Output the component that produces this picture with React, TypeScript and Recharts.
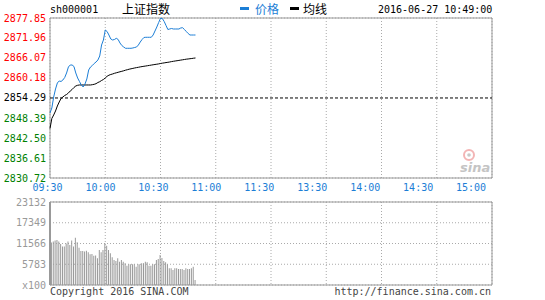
import React from "react";
import {
  ComposedChart,
  Line,
  Bar,
  XAxis,
  YAxis,
  CartesianGrid,
  ReferenceLine,
  ReferenceArea,
} from "recharts";

// minute index from 09:30 (0) to 10:49 (79)
const price = [
  2849.87, 2851.34, 2854.58, 2856.94, 2858.71, 2859.3, 2859.15, 2859.59, 2860.33, 2861.65,
  2863.42, 2864.01, 2864.01, 2863.57, 2861.65, 2860.18, 2859.15, 2858.12, 2857.53, 2858.41,
  2859.89, 2862.54, 2863.42, 2863.86, 2864.45, 2864.89, 2865.48, 2866.66, 2869.9, 2871.37,
  2874.32, 2873.87, 2872.84, 2871.67, 2871.37, 2871.52, 2871.87, 2871.52, 2870.49, 2869.75,
  2869.31, 2868.93, 2868.93, 2868.93, 2868.93, 2869.02, 2869.16, 2869.31, 2869.9, 2870.78,
  2871.52, 2872.11, 2872.17, 2872.17, 2872.17, 2872.17, 2872.84, 2874.02, 2875.2, 2876.52,
  2877.76, 2877.7, 2876.82, 2875.64, 2874.46, 2874.61, 2874.76, 2874.61, 2874.61, 2874.61,
  2874.61, 2874.91, 2874.99, 2874.46, 2873.87, 2873.29, 2872.84, 2872.84, 2872.84, 2872.84,
];

const avgPrice = [
  2845.31, 2848.25, 2849.28, 2850.46, 2851.93, 2853.11, 2854.14, 2854.58, 2855.03, 2855.32,
  2855.76, 2856.35, 2856.79, 2857.38, 2857.82, 2858.03, 2858.12, 2858.12, 2858.12, 2858.12,
  2858.12, 2858.12, 2858.12, 2858.21, 2858.32, 2858.5, 2858.85, 2859.09, 2859.44, 2859.74,
  2860.18, 2860.68, 2861.0, 2861.21, 2861.36, 2861.56, 2861.71, 2861.86, 2862.01, 2862.15,
  2862.3, 2862.48, 2862.62, 2862.77, 2862.89, 2863.01, 2863.13, 2863.24, 2863.33, 2863.45,
  2863.54, 2863.63, 2863.71, 2863.8, 2863.89, 2863.98, 2864.07, 2864.16, 2864.24, 2864.33,
  2864.45, 2864.54, 2864.63, 2864.72, 2864.8, 2864.89, 2865.01, 2865.1, 2865.19, 2865.27,
  2865.36, 2865.45, 2865.54, 2865.63, 2865.72, 2865.78, 2865.86, 2865.92, 2866.01, 2866.07,
];

const volume = [
  12820, 11845, 12123, 12402, 12542, 12123, 11427, 10730, 10730, 11566,
  12123, 11148, 12402, 10730, 13183, 11900, 10396, 9476, 9476, 9336,
  9559, 9113, 8556, 8640, 8166, 8222, 7441, 9755, 9113, 9755,
  11622, 10953, 9755, 8835, 7720, 6968, 6689, 7441, 6494, 6968,
  6494, 6048, 5379, 5769, 5769, 5769, 5769, 5100, 5769, 5769,
  6048, 6048, 6494, 6326, 5379, 5379, 5769, 5769, 6968, 7246,
  8361, 7525, 6689, 6326, 5769, 4654, 4654, 4181, 4654, 4654,
  4459, 4459, 4459, 4181, 4654, 4459, 4459, 4654, 5100, 1394,
];

const prevClose = 2854.29;
const priceTicks = [
  2830.72, 2836.61, 2842.5, 2848.39, 2854.29, 2860.18, 2866.07, 2871.96, 2877.85,
];
const volTicks = [0, 5783, 11566, 17349, 23132];
const timeTicks = [0, 30, 60, 90, 120, 150, 180, 210, 240];
const timeLabels = ["09:30", "10:00", "10:30", "11:00", "11:30", "13:30", "14:00", "14:30", "15:00"];

const rows = price.map((p, i) => ({ m: i, price: p, avg: avgPrice[i], vol: volume[i] }));

const MONO = "'DejaVu Sans Mono', 'Liberation Mono', monospace";
const CJK = "'Noto Sans CJK SC', sans-serif";
const BLUE = "#1c7ed6";
const RED = "#ff0000";
const GREEN = "#008000";
const GRID = "#aaaaaa";

const colorFor = (v: number) =>
  Math.abs(v - prevClose) < 0.005 ? "#000" : v > prevClose ? RED : GREEN;

const PriceTick = ({ x, y, payload }: any) => (
  <text x={x} y={y} dy={3.5} textAnchor="end" fontSize={10} fontFamily={MONO} fill={colorFor(payload.value)}>
    {payload.value.toFixed(2)}
  </text>
);

const PctTick = ({ x, y, payload }: any) => {
  const pct = ((payload.value - prevClose) / prevClose) * 100;
  const s = Math.abs(pct) < 0.005 ? "0.00%" : (pct > 0 ? "+" : "-") + Math.abs(pct).toFixed(2) + "%";
  return (
    <text x={x} y={y} dy={3.5} textAnchor="start" fontSize={10} fontFamily={MONO} fill={colorFor(payload.value)}>
      {s}
    </text>
  );
};

// labels sit a little left of their gridlines, drifting more toward the right
const TimeTick = ({ x, y, payload, index }: any) => (
  <text x={x - 2.5 - index * 2.3} y={y} dy={11} textAnchor="middle" fontSize={10} fontFamily={MONO} fill={BLUE}>
    {timeLabels[timeTicks.indexOf(payload.value)]}
  </text>
);

const VolTick = ({ x, y, payload }: any) => (
  <text x={x} y={y} dy={3.5} textAnchor="end" fontSize={10} fontFamily={MONO} fill="#999">
    {payload.value === 0 ? "x100" : payload.value}
  </text>
);

export default function App() {
  const pMin = priceTicks[0];
  const pMax = priceTicks[priceTicks.length - 1];
  return (
    <div style={{ position: "absolute", left: 0, top: 0, width: 545, height: 300, background: "#fff" }}>
      {/* header */}
      <div style={{ position: "absolute", left: 50, top: 4, fontSize: 10, fontFamily: MONO, color: "#000" }}>
        sh000001
      </div>
      <div style={{ position: "absolute", left: 122, top: 2, fontSize: 12, lineHeight: "14px", fontFamily: CJK, color: "#000" }}>
        上证指数
      </div>
      <div style={{ position: "absolute", left: 240, top: 7, width: 9, height: 3, background: BLUE }} />
      <div style={{ position: "absolute", left: 255, top: 2, fontSize: 12, lineHeight: "14px", fontFamily: CJK, color: BLUE }}>
        价格
      </div>
      <div style={{ position: "absolute", left: 290, top: 7, width: 9, height: 3, background: "#000" }} />
      <div style={{ position: "absolute", left: 303, top: 2, fontSize: 12, lineHeight: "14px", fontFamily: CJK, color: "#000" }}>
        均线
      </div>
      <div style={{ position: "absolute", left: 378, top: 4, fontSize: 10, fontFamily: MONO, color: "#000" }}>
        2016-06-27 10:49:00
      </div>

      <div style={{ position: "absolute", left: 0, top: 0 }}>
        <ComposedChart width={545} height={200} data={rows} margin={{ top: 18, right: 0, bottom: 0, left: 0 }}>
          <CartesianGrid stroke={GRID} strokeDasharray="1 2" />
          <XAxis
            dataKey="m"
            type="number"
            domain={[0, 240]}
            ticks={timeTicks}
            interval={0}
            height={22}
            axisLine={false}
            tickLine={false}
            tickSize={0}
            tickMargin={2}
            tick={<TimeTick />}
          />
          <YAxis
            yAxisId="p"
            domain={[pMin, pMax]}
            ticks={priceTicks}
            interval={0}
            width={50}
            axisLine={false}
            tickLine={false}
            tickSize={0}
            tickMargin={4}
            tick={<PriceTick />}
          />
          <YAxis
            yAxisId="pct"
            orientation="right"
            domain={[pMin, pMax]}
            ticks={priceTicks}
            interval={0}
            width={53}
            axisLine={false}
            tickLine={false}
            tickSize={0}
            tickMargin={3}
            tick={<PctTick />}
          />
          <ReferenceArea yAxisId="p" x1={0} x2={240} y1={pMin} y2={pMax} fill="none" stroke="#999" />
          <ReferenceLine yAxisId="p" y={prevClose} stroke="#000" strokeDasharray="3 2" />
          <Line yAxisId="p" dataKey="avg" stroke="#000" strokeWidth={1} dot={false} isAnimationActive={false} />
          <Line yAxisId="p" dataKey="price" stroke={BLUE} strokeWidth={1} dot={false} isAnimationActive={false} />
        </ComposedChart>
      </div>

      {/* sina watermark */}
      <svg style={{ position: "absolute", left: 456, top: 148 }} width={36} height={28}>
        <circle cx={13} cy={7} r={5} fill="none" stroke="#f3b5b5" strokeWidth={2} />
        <circle cx={13} cy={7} r={1.8} fill="#c8c8c8" />
        <text x={4} y={24} fontSize={13} fontWeight="bold" fontStyle="italic" fontFamily="'DejaVu Sans', sans-serif" fill="#c4c4c4">
          sina
        </text>
      </svg>

      <div style={{ position: "absolute", left: 0, top: 190 }}>
        <ComposedChart width={545} height={110} data={rows} margin={{ top: 12, right: 53, bottom: 15, left: 0 }}>
          <CartesianGrid stroke={GRID} strokeDasharray="1 2" />
          <XAxis dataKey="m" type="number" domain={[0, 240]} ticks={timeTicks} interval={0} hide />
          <YAxis
            domain={[0, volTicks[volTicks.length - 1]]}
            ticks={volTicks}
            interval={0}
            width={50}
            axisLine={false}
            tickLine={false}
            tickSize={0}
            tickMargin={4}
            tick={<VolTick />}
          />
          <ReferenceArea x1={0} x2={240} y1={0} y2={volTicks[volTicks.length - 1]} fill="none" stroke="#999" />
          <ReferenceLine x={0} stroke="#999" strokeWidth={2} />
          <Bar dataKey="vol" fill="#999" barSize={1} isAnimationActive={false} />
        </ComposedChart>
      </div>

      {/* footer */}
      <div style={{ position: "absolute", left: 50, top: 286, fontSize: 10, lineHeight: "12px", fontFamily: MONO, color: "#444" }}>
        Copyright 2016 SINA.COM
      </div>
      <div style={{ position: "absolute", right: 54, top: 286, fontSize: 10, lineHeight: "12px", fontFamily: MONO, color: "#444" }}>
        http://finance.sina.com.cn
      </div>
    </div>
  );
}
